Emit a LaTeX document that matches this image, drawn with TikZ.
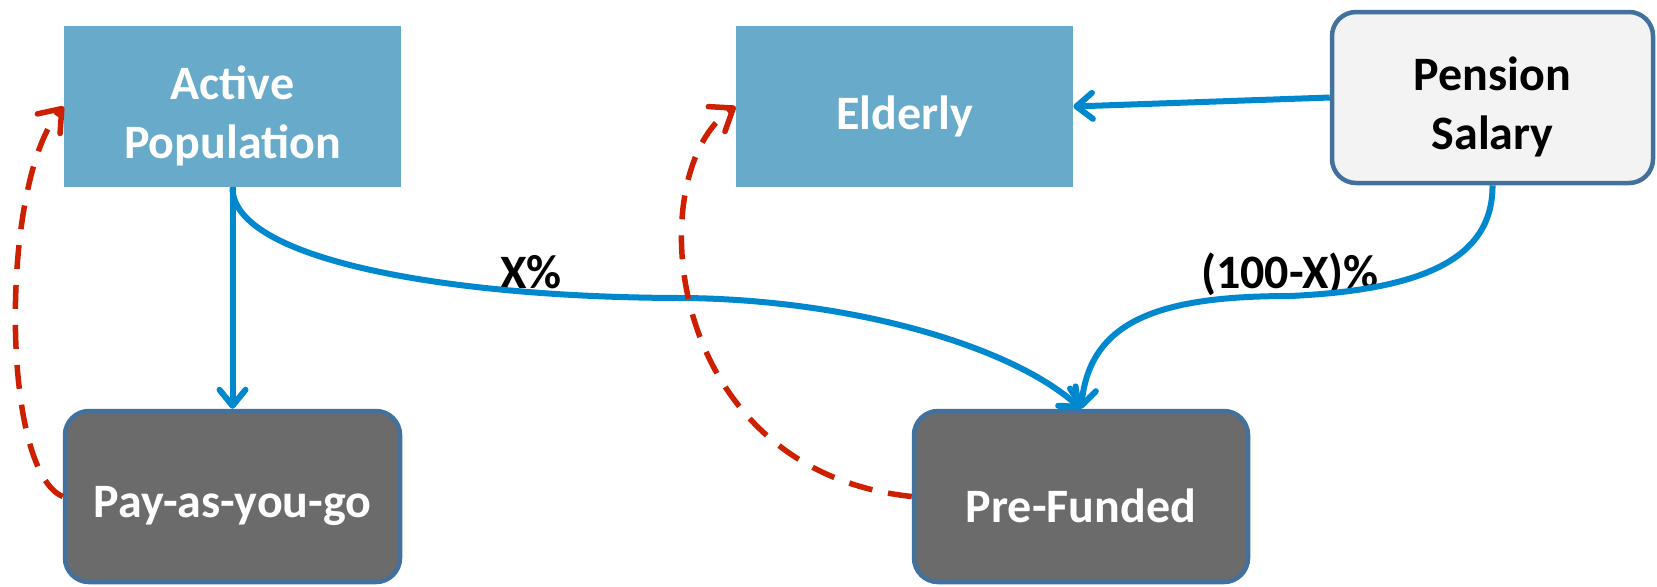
\documentclass[tikz,border=0pt]{standalone}
\usepackage{fontspec}
\setmainfont{Carlito}
\usetikzlibrary{arrows.meta}
\definecolor{boxblue}{HTML}{67AACA}
\definecolor{boxgray}{HTML}{6B6B6B}
\definecolor{boxedge}{HTML}{41719C}
\definecolor{boxlight}{HTML}{F3F3F3}
\definecolor{flowblue}{HTML}{0088CE}
\definecolor{backred}{HTML}{CC2000}
\tikzset{
  txt/.style={font=\bfseries\fontsize{24}{29.5}\selectfont, align=center, inner sep=0pt},
  sqbox/.style={fill=boxblue, minimum width=168.5pt, minimum height=80.5pt, inner sep=0pt},
  rbox/.style={draw=boxedge, line width=2.25pt, rounded corners=12pt, minimum height=85.5pt, inner sep=0pt},
  flow/.style={draw=flowblue, line width=3pt, -{Straight Barb[length=8pt,width=13pt,round]}},
  back/.style={draw=backred, line width=2.75pt, dash pattern=on 12pt off 8pt, -{Straight Barb[length=10pt,width=15pt,round]}},
  lbl/.style={txt, text=black}
}
\begin{document}
\begin{tikzpicture}[x=0.5pt,y=-0.5pt]
\useasboundingbox (0,0) rectangle (1657,586);
\node[sqbox, label={[txt, text=white, yshift=-4.75pt]center:{Active\\Population}}] (ap) at (232.5,106.5) {};
\node[sqbox, label={[txt, text=white, yshift=-4.75pt]center:{Elderly}}] (el) at (904.5,106.5) {};
\node[rbox, fill=boxlight, minimum width=160.5pt, label={[txt, text=black, yshift=-4.75pt]center:{Pension\\Salary}}] (ps) at (1492.5,97.5) {};
\node[rbox, fill=boxgray, minimum width=167.5pt, label={[txt, text=white, yshift=-4.75pt]center:{Pay-as-you-go}}] (pag) at (232.5,496.5) {};
\node[rbox, fill=boxgray, minimum width=167pt, label={[txt, text=white, yshift=-4.75pt]center:{Pre-Funded}}] (pf) at (1081,496.5) {};
\node[lbl] (xp) at (531,272) {X\%};
\node[lbl] (yp) at (1290,274) {(100-X)\%};
\coordinate (m1) at (686,298);
\coordinate (m2) at (1290,296);
\draw[flow] (ap.south) -- (pag.north);
\draw[flow] (ap.south) .. controls (232,260) and (450,298) .. (m1) .. controls (850,300) and (1010,345) .. (pf.north);
\draw[flow] (ps.south) .. controls (1493,260) and (1420,290) .. (m2) .. controls (1160,296) and (1090,320) .. (pf.north);
\draw[flow] (ps.west) -- (el.east);
\draw[back] (pag.west) .. controls (0,470) and (0,180) .. (ap.west);
\draw[back] (pf.west) .. controls (660,470) and (640,170) .. (el.west);
\end{tikzpicture}
\end{document}
